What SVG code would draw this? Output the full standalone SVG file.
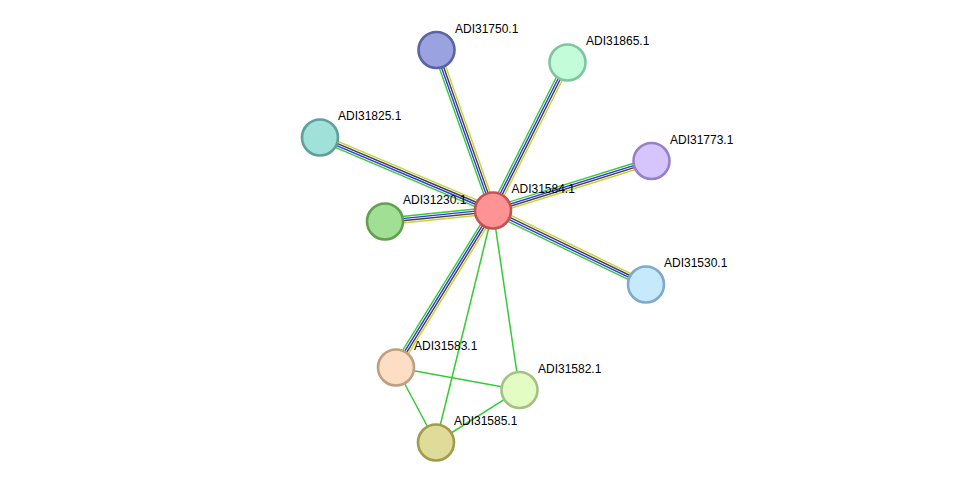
<svg xmlns="http://www.w3.org/2000/svg" width="976" height="488" viewBox="0 0 976 488">
<style>
.bg{fill:#ffffff}
.y{stroke:#c4d23c;stroke-width:1.4;fill:none}
.k{stroke:#404040;stroke-width:1.4;fill:none}
.b{stroke:#3333f0;stroke-width:1.4;fill:none}
.g{stroke:#33cc33;stroke-width:1.4;fill:none}
.s{stroke:#33cc33;stroke-width:1.5;fill:none}
.n{stroke-width:2.6}
.t{font-family:"Liberation Sans",Arial,sans-serif;font-size:12px;fill:#000000}
</style>
<rect class="bg" x="0" y="0" width="976" height="488"/>
<g id="connectors">
  <line class="s" x1="493" y1="210.5" x2="519.5" y2="390"/>
  <line class="s" x1="493" y1="210.5" x2="436" y2="442.5"/>
  <line class="s" x1="396" y1="367.5" x2="519.5" y2="390"/>
  <line class="s" x1="396" y1="367.5" x2="436" y2="442.5"/>
  <line class="s" x1="519.5" y1="390" x2="436" y2="442.5"/>
  <g transform="translate(493 210.5) rotate(-109.4)">
    <line class="y" x1="0" y1="3.3" x2="170.2" y2="3.3"/><line class="k" x1="0" y1="1.1" x2="170.2" y2="1.1"/><line class="b" x1="0" y1="-1.1" x2="170.2" y2="-1.1"/><line class="g" x1="0" y1="-3.3" x2="170.2" y2="-3.3"/>
  </g>
  <g transform="translate(493 210.5) rotate(-63.3)">
    <line class="y" x1="0" y1="3.3" x2="165.7" y2="3.3"/><line class="k" x1="0" y1="1.1" x2="165.7" y2="1.1"/><line class="b" x1="0" y1="-1.1" x2="165.7" y2="-1.1"/><line class="g" x1="0" y1="-3.3" x2="165.7" y2="-3.3"/>
  </g>
  <g transform="translate(493 210.5) rotate(-157.1)">
    <line class="y" x1="0" y1="3.3" x2="187.8" y2="3.3"/><line class="k" x1="0" y1="1.1" x2="187.8" y2="1.1"/><line class="b" x1="0" y1="-1.1" x2="187.8" y2="-1.1"/><line class="g" x1="0" y1="-3.3" x2="187.8" y2="-3.3"/>
  </g>
  <g transform="translate(493 210.5) rotate(-17.3)">
    <line class="y" x1="0" y1="3.3" x2="166" y2="3.3"/><line class="k" x1="0" y1="1.1" x2="166" y2="1.1"/><line class="b" x1="0" y1="-1.1" x2="166" y2="-1.1"/><line class="g" x1="0" y1="-3.3" x2="166" y2="-3.3"/>
  </g>
  <g transform="translate(493 210.5) rotate(174.2)">
    <line class="y" x1="0" y1="-3.3" x2="108.6" y2="-3.3"/><line class="k" x1="0" y1="-1.1" x2="108.6" y2="-1.1"/><line class="b" x1="0" y1="1.1" x2="108.6" y2="1.1"/><line class="g" x1="0" y1="3.3" x2="108.6" y2="3.3"/>
  </g>
  <g transform="translate(493 210.5) rotate(25.8)">
    <line class="y" x1="0" y1="-3.3" x2="170" y2="-3.3"/><line class="k" x1="0" y1="-1.1" x2="170" y2="-1.1"/><line class="b" x1="0" y1="1.1" x2="170" y2="1.1"/><line class="g" x1="0" y1="3.3" x2="170" y2="3.3"/>
  </g>
  <g transform="translate(493 210.5) rotate(121.7)">
    <line class="y" x1="0" y1="-3.3" x2="184.5" y2="-3.3"/><line class="k" x1="0" y1="-1.1" x2="184.5" y2="-1.1"/><line class="b" x1="0" y1="1.1" x2="184.5" y2="1.1"/><line class="g" x1="0" y1="3.3" x2="184.5" y2="3.3"/>
  </g>
</g>
<g id="ADI31750.1"><circle class="n" cx="436.5" cy="50" r="18" fill="#9aa3e0" stroke="#5a64a4"/><text class="t" x="455" y="32.5">ADI31750.1</text></g>
<g id="ADI31865.1"><circle class="n" cx="567.5" cy="62.5" r="18" fill="#c2fcd8" stroke="#80c4a0"/><text class="t" x="586" y="45">ADI31865.1</text></g>
<g id="ADI31825.1"><circle class="n" cx="320" cy="137.5" r="18" fill="#a0e2da" stroke="#5fa09a"/><text class="t" x="338" y="120">ADI31825.1</text></g>
<g id="ADI31773.1"><circle class="n" cx="651.5" cy="161" r="18" fill="#d6c4fc" stroke="#9880c8"/><text class="t" x="670" y="143.5">ADI31773.1</text></g>
<g id="ADI31230.1"><circle class="n" cx="385" cy="221.5" r="18" fill="#a1e094" stroke="#60a050"/><text class="t" x="403" y="204">ADI31230.1</text></g>
<g id="ADI31530.1"><circle class="n" cx="646" cy="284.5" r="18" fill="#c6e9fc" stroke="#80a8c8"/><text class="t" x="664" y="267">ADI31530.1</text></g>
<g id="ADI31583.1"><circle class="n" cx="396" cy="367.5" r="18" fill="#fddec4" stroke="#c0a080"/><text class="t" x="414" y="350">ADI31583.1</text></g>
<g id="ADI31582.1"><circle class="n" cx="519.5" cy="390" r="18" fill="#e2fcc4" stroke="#a4c084"/><text class="t" x="538" y="372.5">ADI31582.1</text></g>
<g id="ADI31585.1"><circle class="n" cx="436" cy="442.5" r="18" fill="#dedc98" stroke="#a09c4c"/><text class="t" x="454" y="425">ADI31585.1</text></g>
<g id="ADI31584.1"><circle class="n" cx="493" cy="210.5" r="18" fill="#ff9292" stroke="#c05454"/><text class="t" x="511.5" y="193">ADI31584.1</text></g>
</svg>
